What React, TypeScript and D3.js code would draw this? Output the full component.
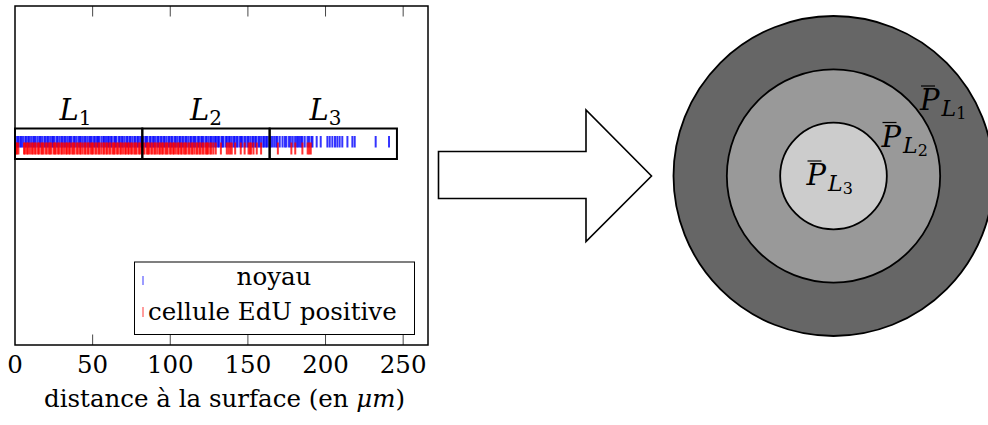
import { useRef, useEffect } from 'react'
import * as d3 from 'd3'

// positions (µm) of the detected nuclei
const noyau = [
	0.4, 1.6, 2.3, 3.5, 4.1, 5.2, 6.6, 7.3, 8.5, 9.2, 10.4, 11.7, 12.5, 13.3, 14.6, 15.8, 16.4, 17.5, 18.9, 19.6,
	20.8, 21.5, 22.7, 23.9, 24.6, 25.4, 26.8, 27.5, 28.7, 29.9, 30.6, 31.8, 32.5, 33.7, 34.9, 35.6, 36.4, 37.8, 38.5,
	39.6, 40.9, 41.7, 42.4, 43.6, 44.8, 45.5, 46.7, 47.9, 48.6, 49.4, 50.7, 51.5, 52.8, 53.6, 54.3, 55.7, 56.9, 57.4,
	58.6, 59.8, 60.5, 61.7, 62.4, 63.9, 64.6, 65.3, 66.8, 67.5, 68.7, 69.4, 70.6, 71.9, 72.5, 73.8, 74.4, 75.6, 76.9,
	77.5, 78.8, 79.4, 80.6, 81.7, 82.5, 83.9, 84.6, 85.3, 86.8, 87.4, 88.7, 89.5, 90.6, 91.9, 92.4, 93.7, 94.5, 95.8,
	96.4, 97.6, 98.9, 99.5, 100.7, 101.4, 102.8, 103.5, 104.6, 105.9, 106.4, 107.7, 108.5, 109.8, 110.4, 111.6, 112.9,
	113.5, 114.8, 115.6, 116.3, 117.7, 118.5, 119.9, 120.6, 121.4, 122.8, 123.5, 124.7, 125.9, 126.4, 127.6, 128.8,
	129.5, 130.7, 131.4, 132.9, 133.6, 134.3, 135.8, 136.5, 137.7, 138.4, 139.6, 140.9, 141.5, 142.7, 143.4, 144.8,
	145.6, 146.3, 147.7, 148.5, 149.8, 150.4, 151.6, 152.9, 153.5, 154.7, 155.4, 156.8, 157.5, 158.6, 159.9, 160.5,
	161.7, 162.4, 163.8, 164.5, 165.6, 166.9, 168.2, 169.0, 170.5, 172.3, 173.8, 174.8, 176.5, 177.6, 178.9, 180.4,
	181.5, 182.4, 183.4, 184.4, 185.1, 186.6, 188.4, 189.4, 190.9, 191.6, 194.3, 196.9, 201.2, 202.7, 204.4, 206.1,
	207.6, 209.1, 210.8, 214.1, 217.3, 218.8, 232.3, 240.9,
]

// positions (µm) of the EdU positive cells
const edu = [
	0.6, 1.3, 2.2, 5.8, 6.5, 7.7, 8.4, 9.6, 10.8, 11.5, 12.7, 13.4, 14.8, 15.5, 16.9, 17.6, 18.3, 19.7, 20.5, 21.8,
	22.6, 23.4, 24.9, 25.6, 26.3, 27.7, 28.5, 29.8, 30.4, 31.6, 32.9, 33.5, 34.7, 35.4, 36.8, 37.6, 38.3, 39.7, 40.5,
	41.8, 42.4, 43.6, 44.9, 45.5, 46.8, 47.4, 48.7, 49.6, 50.3, 51.7, 52.5, 53.8, 54.4, 55.6, 56.9, 57.5, 58.8, 59.4,
	60.7, 61.5, 62.9, 63.6, 64.3, 65.7, 66.5, 67.8, 68.4, 69.6, 70.9, 71.5, 72.8, 73.4, 74.7, 75.5, 76.8, 77.6, 78.3,
	79.7, 80.5, 81.8, 82.6, 83.4, 84.9, 85.6, 86.3, 87.7, 88.5, 89.8, 90.4, 91.6, 92.9, 93.5, 94.7, 95.4, 96.8, 97.6,
	98.3, 99.7, 100.5, 101.8, 102.4, 103.6, 104.9, 105.5, 106.8, 107.4, 108.7, 109.6, 110.3, 111.7, 112.5, 113.8,
	114.4, 115.6, 116.9, 117.5, 118.8, 119.4, 120.7, 121.5, 122.9, 123.6, 124.3, 125.7, 126.5, 127.8, 129.3, 132.6,
	136.4, 137.5, 138.6, 139.6, 141.8, 145.4, 147.9, 150.4, 151.3, 152.1, 153.6, 155.7, 158.5, 169.3, 178.0, 180.5,
	185.1, 188.5, 189.5, 190.5,
]

const layerBounds = [0, 82, 164, 246]
const layerNames = ['1', '2', '3']
const layerLabelX = [39, 123, 200]
const xTicks = [0, 50, 100, 150, 200, 250]
const xDomain = [0, 266]

// concentric disc: relative radius per layer
const discLayers = ['1', '2', '3']
const discRadius = [3, 2, 1]
const discFill = ['#666666', '#999999', '#cccccc']

const serif = 'DejaVu Serif'

const App = () => {
	const svgRef = useRef<SVGSVGElement | null>(null)

	useEffect(() => {
		if (!svgRef.current) return
		const svg = d3.select(svgRef.current)
		svg.selectAll('*').remove()

		const plot = { left: 15, right: 428, top: 6, bottom: 345 }
		const x = d3.scaleLinear().domain(xDomain).range([plot.left, plot.right])

		// strip layout
		const strip = { top: 128.5, bottom: 159 }
		const blueY = [136, 147.5]
		const redY = [142.5, 154.5]

		const g = svg.append('g')

		// ticks top and bottom, pointing inward
		g.append('g')
			.selectAll('line')
			.data(xTicks.slice(1))
			.join('line')
			.attr('x1', (d) => x(d))
			.attr('x2', (d) => x(d))
			.attr('y1', plot.top)
			.attr('y2', plot.top + 10.5)
			.attr('stroke', '#333')
			.attr('stroke-width', 0.9)
		g.append('g')
			.selectAll('line')
			.data(xTicks.slice(1))
			.join('line')
			.attr('x1', (d) => x(d))
			.attr('x2', (d) => x(d))
			.attr('y1', plot.bottom)
			.attr('y2', plot.bottom - 10.5)
			.attr('stroke', '#333')
			.attr('stroke-width', 0.9)

		g.append('g')
			.selectAll('text')
			.data(xTicks)
			.join('text')
			.attr('x', (d) => x(d))
			.attr('y', 373)
			.attr('text-anchor', 'middle')
			.attr('font-family', serif)
			.attr('font-size', 24.5)
			.text((d) => d)

		const xl = g
			.append('text')
			.attr('x', (plot.left + plot.right) / 2 + 3)
			.attr('y', 407)
			.attr('text-anchor', 'middle')
			.attr('font-family', serif)
			.attr('font-size', 24.5)
		xl.append('tspan').text('distance à la surface (en ')
		xl.append('tspan').attr('font-style', 'italic').text('μm')
		xl.append('tspan').text(')')

		// nuclei then EdU cells
		g.append('g')
			.selectAll('line')
			.data(noyau)
			.join('line')
			.attr('x1', (d) => x(d))
			.attr('x2', (d) => x(d))
			.attr('y1', blueY[0])
			.attr('y2', blueY[1])
			.attr('stroke', '#0000ff')
			.attr('stroke-opacity', 0.8)
			.attr('stroke-width', 2)
		g.append('g')
			.selectAll('line')
			.data(edu)
			.join('line')
			.attr('x1', (d) => x(d))
			.attr('x2', (d) => x(d))
			.attr('y1', redY[0])
			.attr('y2', redY[1])
			.attr('stroke', '#ff0000')
			.attr('stroke-opacity', 0.8)
			.attr('stroke-width', 2)

		// layer boxes
		g.append('g')
			.selectAll('rect')
			.data(d3.range(layerNames.length))
			.join('rect')
			.attr('x', (i) => x(layerBounds[i]))
			.attr('y', strip.top)
			.attr('width', (i) => x(layerBounds[i + 1]) - x(layerBounds[i]))
			.attr('height', strip.bottom - strip.top)
			.attr('fill', 'none')
			.attr('stroke', '#000')
			.attr('stroke-width', 2)

		const ll = g
			.append('g')
			.selectAll('text')
			.data(layerNames)
			.join('text')
			.attr('x', (_, i) => x(layerLabelX[i]))
			.attr('y', 120)
			.attr('text-anchor', 'middle')
			.attr('font-family', serif)
			.attr('font-size', 29)
		ll.append('tspan').attr('font-style', 'italic').text('L')
		ll.append('tspan').attr('font-size', 20).attr('dy', 5).text((d) => d)

		// legend
		const leg = g.append('g')
		leg.append('rect')
			.attr('x', 134.5)
			.attr('y', 262)
			.attr('width', 280)
			.attr('height', 72.5)
			.attr('fill', '#fff')
			.attr('stroke', '#000')
			.attr('stroke-width', 1)
		leg.append('line')
			.attr('x1', 143).attr('x2', 143).attr('y1', 276).attr('y2', 285)
			.attr('stroke', '#0000ff').attr('stroke-opacity', 0.6).attr('stroke-width', 1.3)
		leg.append('line')
			.attr('x1', 143).attr('x2', 143).attr('y1', 307).attr('y2', 317)
			.attr('stroke', '#ff0000').attr('stroke-opacity', 0.6).attr('stroke-width', 1.3)
		leg.append('text')
			.attr('x', 274)
			.attr('y', 285)
			.attr('text-anchor', 'middle')
			.attr('font-family', serif)
			.attr('font-size', 24.5)
			.text('noyau')
		leg.append('text')
			.attr('x', 148)
			.attr('y', 320)
			.attr('font-family', serif)
			.attr('font-size', 24.5)
			.text('cellule EdU positive')

		// frame
		g.append('rect')
			.attr('x', plot.left)
			.attr('y', plot.top)
			.attr('width', plot.right - plot.left)
			.attr('height', plot.bottom - plot.top)
			.attr('fill', 'none')
			.attr('stroke', '#000')
			.attr('stroke-width', 1.5)

		// arrow
		const arrow = d3.path()
		arrow.moveTo(438.5, 151.5)
		arrow.lineTo(586, 151.5)
		arrow.lineTo(586, 110)
		arrow.lineTo(651.5, 176)
		arrow.lineTo(586, 241.5)
		arrow.lineTo(586, 198.5)
		arrow.lineTo(438.5, 198.5)
		arrow.closePath()
		svg.append('path')
			.attr('d', arrow.toString())
			.attr('fill', '#fff')
			.attr('stroke', '#000')
			.attr('stroke-width', 1.6)

		// disc
		const cx = 833.5
		const cy = 176
		const r = d3.scaleLinear().domain([0, 3]).range([0, 160])
		svg.append('g')
			.selectAll('circle')
			.data(discLayers)
			.join('circle')
			.attr('cx', cx)
			.attr('cy', cy)
			.attr('r', (_, i) => r(discRadius[i]))
			.attr('fill', (_, i) => discFill[i])
			.attr('stroke', '#000')
			.attr('stroke-width', 1.8)

		const pLabels = [
			{ x: 920, y: 110 },
			{ x: 881.5, y: 146.5 },
			{ x: 806.5, y: 185 },
		]
		const pl = svg.append('g')
			.selectAll('g')
			.data(discLayers)
			.join('g')
			.attr('transform', (_, i) => `translate(${pLabels[i].x},${pLabels[i].y})`)
		pl.append('line')
			.attr('x1', 1)
			.attr('x2', 15)
			.attr('y1', -24)
			.attr('y2', -24)
			.attr('stroke', '#000')
			.attr('stroke-width', 1.2)
		const pt = pl.append('text').attr('font-family', serif).attr('font-size', 29)
		pt.append('tspan').attr('font-style', 'italic').text('P')
		pt.append('tspan').attr('font-style', 'italic').attr('font-size', 22).attr('dx', 2).attr('dy', 6).text('L')
		pt.append('tspan').attr('font-size', 16).attr('dy', 3).text((d) => d)
	}, [])

	return (
		<svg
			ref={svgRef}
			width={988}
			height={425}
			style={{ position: 'absolute', left: 0, top: 0, background: '#fff' }}
		></svg>
	)
}

export default App
